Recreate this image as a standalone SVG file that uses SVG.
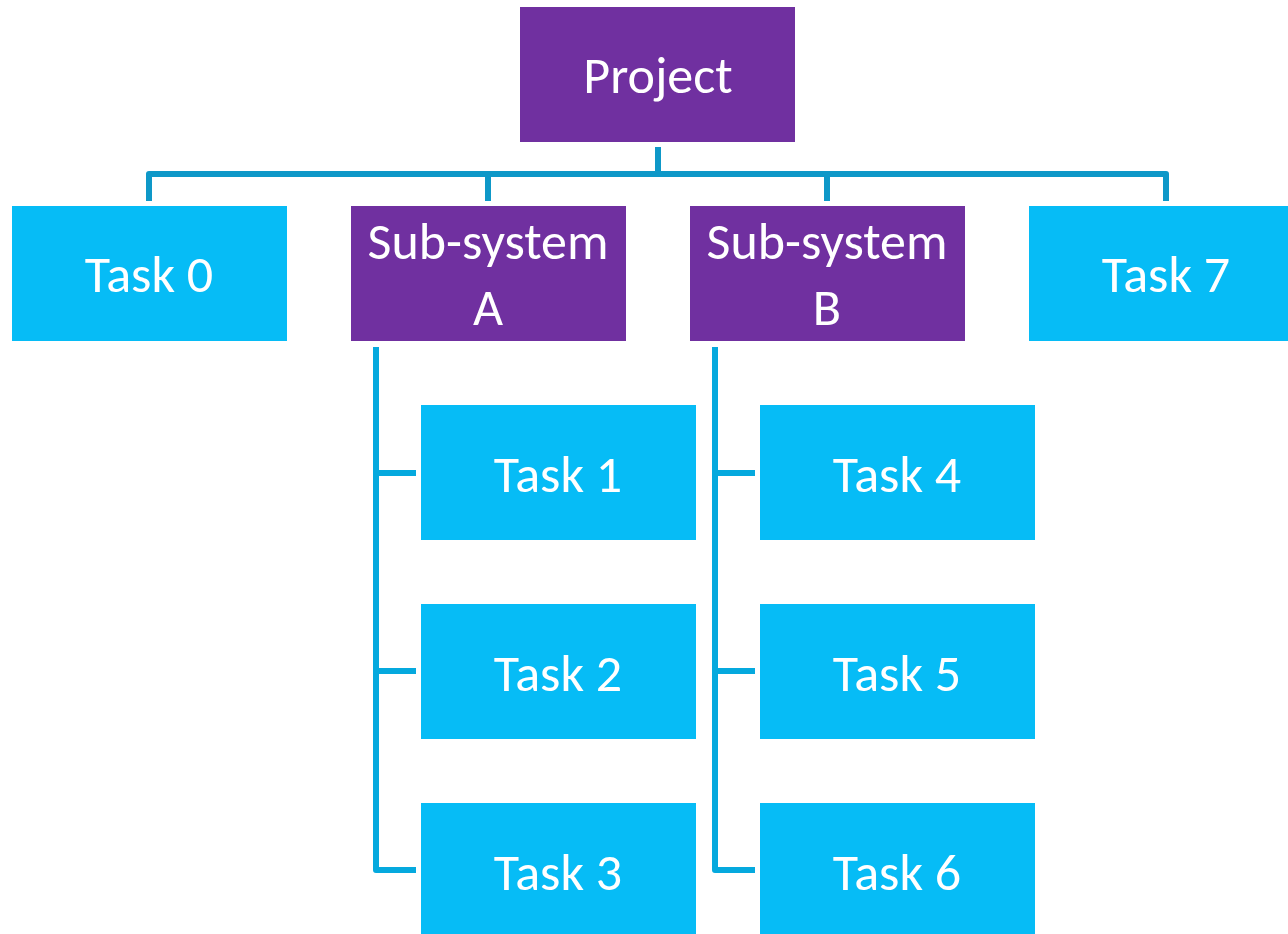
<svg xmlns="http://www.w3.org/2000/svg" width="1288" height="934" viewBox="0 0 1288 934">
<style>
.p{fill:#7030A0}
.b{fill:#06BCF6}
.t{font-family:Calibri,Carlito,"Noto Sans","Open Sans",sans-serif;font-size:52px;fill:#ffffff;text-anchor:middle}
.c1{stroke:#0E98C8;stroke-width:6;fill:none;stroke-linejoin:round}
.c2{stroke:#05A9DE;stroke-width:6;fill:none;stroke-linejoin:round}
</style>
<rect width="1288" height="934" fill="#ffffff"/>
<g id="connectors">
<path class="c1" d="M658,147 V174 M149,201 V174 H1166 V201 M488,174 V201 M827,174 V201"/>
<path class="c2" d="M376,347 V870 H416 M376,473 H416 M376,671 H416"/>
<path class="c2" d="M715,347 V870 H755 M715,473 H755 M715,671 H755"/>
</g>
<g id="project"><rect class="p" x="520" y="7" width="275" height="135"/><text class="t" x="658" y="93">Project</text></g>
<g id="task0"><rect class="b" x="12" y="206" width="275" height="135"/><text class="t" x="149" y="292">Task 0</text></g>
<g id="subA"><rect class="p" x="351" y="206" width="275" height="135"/><text class="t" x="488" y="259">Sub-system</text><text class="t" x="488" y="325">A</text></g>
<g id="subB"><rect class="p" x="690" y="206" width="275" height="135"/><text class="t" x="827" y="259">Sub-system</text><text class="t" x="827" y="325">B</text></g>
<g id="task7"><rect class="b" x="1029" y="206" width="275" height="135"/><text class="t" x="1166" y="292">Task 7</text></g>
<g id="task1"><rect class="b" x="421" y="405" width="275" height="135"/><text class="t" x="558" y="492">Task 1</text></g>
<g id="task2"><rect class="b" x="421" y="604" width="275" height="135"/><text class="t" x="558" y="691">Task 2</text></g>
<g id="task3"><rect class="b" x="421" y="803" width="275" height="135"/><text class="t" x="558" y="890">Task 3</text></g>
<g id="task4"><rect class="b" x="760" y="405" width="275" height="135"/><text class="t" x="897" y="492">Task 4</text></g>
<g id="task5"><rect class="b" x="760" y="604" width="275" height="135"/><text class="t" x="897" y="691">Task 5</text></g>
<g id="task6"><rect class="b" x="760" y="803" width="275" height="135"/><text class="t" x="897" y="890">Task 6</text></g>
</svg>
